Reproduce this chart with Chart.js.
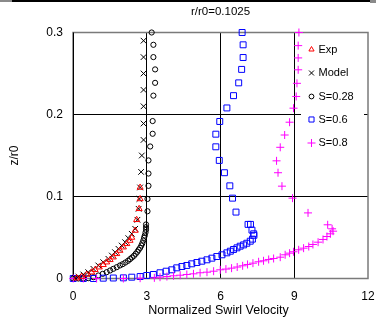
<!DOCTYPE html>
<html>
<head>
<meta charset="utf-8">
<script src="https://cdn.jsdelivr.net/npm/chart.js@4/dist/chart.umd.min.js"></script>
<style>
  html, body { margin: 0; padding: 0; background: #fff; }
  #chart { display: block; }
</style>
</head>
<body>
<canvas id="chart" width="381" height="324"></canvas>
<script>
'use strict';

const FONT = '"Liberation Sans", Arial, sans-serif';

const TITLE = 'r/r0=0.1025';
const X_TITLE = 'Normalized Swirl Velocity';
const Y_TITLE = 'z/r0';

const xTicks = [0, 3, 6, 9, 12];
const yTicks = [0, 0.1, 0.2, 0.3];
const seriesNames = ['Exp', 'Model', 'S=0.28', 'S=0.6', 'S=0.8'];

// Exp (red triangles)
const expX = [2.73, 2.73, 2.69, 2.59, 2.53, 2.39, 2.32, 2.19, 2.05, 1.91, 1.78, 1.64, 1.51, 1.37, 1.23, 1.07, 0.90, 0.76, 0.56, 0.35, 0.15];
const expY = [0.111, 0.097, 0.085, 0.0716, 0.0585, 0.050, 0.0463, 0.0423, 0.0382, 0.0341, 0.0301, 0.026, 0.0228, 0.0199, 0.0167, 0.0138, 0.0106, 0.0077, 0.0049, 0.0024, 0.0004];

// Model (black x)
const modelX = [2.87, 2.87, 2.87, 2.87, 2.87, 2.87, 2.87, 2.80, 2.77, 2.73, 2.70, 2.67, 2.62, 2.53, 2.39, 2.25, 2.12, 1.98, 1.85, 1.71, 1.58, 1.44, 1.23, 1.03, 0.83, 0.62, 0.42, 0.22, 0.08];
const modelY = [0.290, 0.270, 0.250, 0.230, 0.210, 0.189, 0.169, 0.150, 0.130, 0.111, 0.097, 0.085, 0.0716, 0.0606, 0.0545, 0.0492, 0.0443, 0.0402, 0.0362, 0.0321, 0.028, 0.024, 0.0199, 0.0159, 0.0118, 0.0077, 0.0049, 0.0024, 0.0008];

// S=0.28 (black circles)
const s28X = [3.20, 3.27, 3.27, 3.34, 3.34, 3.27, 3.24, 3.24, 3.14, 3.07, 3.07, 3.07, 3.03, 3.03, 2.97, 2.97, 2.97, 2.95, 2.92, 2.89, 2.86, 2.82, 2.78, 2.73, 2.67, 2.62, 2.55, 2.48, 2.40, 2.32, 2.24, 2.13, 2.02, 1.91, 1.78, 1.64, 1.51, 1.37, 1.21, 1.03, 0.83, 0.62, 0.42, 0.22, 0.01];
const s28Y = [0.300, 0.285, 0.270, 0.255, 0.2386, 0.223, 0.192, 0.1765, 0.161, 0.144, 0.128, 0.113, 0.097, 0.082, 0.0659, 0.0626, 0.0594, 0.0561, 0.0524, 0.0496, 0.0463, 0.043, 0.0402, 0.0374, 0.035, 0.0326, 0.0301, 0.0277, 0.0256, 0.0236, 0.0216, 0.0195, 0.0175, 0.0159, 0.0138, 0.0118, 0.0098, 0.0077, 0.0057, 0.0037, 0.0016, 0.0004, 0, 0, 0];

// S=0.6 (blue squares)
const s06X = [6.88, 6.92, 6.92, 6.86, 6.74, 6.53, 6.26, 5.97, 5.81, 5.81, 5.95, 6.16, 6.38, 6.49, 6.63, 7.12, 7.22, 7.28, 7.35, 7.36, 7.30, 7.21, 7.07, 6.94, 6.80, 6.67, 6.53, 6.40, 6.26, 6.06, 5.85, 5.65, 5.45, 5.24, 5.04, 4.83, 4.63, 4.43, 4.22, 4.02, 3.79, 3.54, 3.27, 3.00, 2.73, 2.39, 2.05, 1.64, 1.23, 0.83, 0.42, 0.01];
const s06Y = [0.300, 0.285, 0.2695, 0.255, 0.2386, 0.223, 0.208, 0.1915, 0.176, 0.1606, 0.144, 0.129, 0.113, 0.098, 0.081, 0.066, 0.066, 0.059, 0.0545, 0.0527, 0.048, 0.0455, 0.043, 0.041, 0.0394, 0.0374, 0.0354, 0.0333, 0.0313, 0.0289, 0.0268, 0.0248, 0.0228, 0.0211, 0.0195, 0.0179, 0.0159, 0.0146, 0.013, 0.0106, 0.0089, 0.007, 0.0049, 0.0037, 0.0024, 0.0016, 0.0008, 0.0006, 0.0004, 0, 0, 0];

// S=0.8 (magenta plus)
const s08X = [9.19, 9.16, 9.16, 9.16, 9.11, 9.08, 8.97, 8.81, 8.61, 8.43, 8.28, 8.34, 8.50, 8.93, 9.56, 10.36, 10.54, 10.58, 10.47, 10.33, 10.17, 9.97, 9.76, 9.59, 9.38, 9.18, 8.97, 8.81, 8.63, 8.43, 8.16, 7.96, 7.75, 7.55, 7.32, 7.10, 6.90, 6.68, 6.45, 6.22, 5.99, 5.72, 5.45, 5.17, 4.90, 4.63, 4.36, 4.09, 3.82, 3.54, 3.31, 2.73, 2.05, 0.96, 0.42, 0.01];
const s08Y = [0.300, 0.284, 0.269, 0.2545, 0.238, 0.222, 0.2077, 0.1906, 0.175, 0.160, 0.1435, 0.129, 0.1126, 0.098, 0.080, 0.0655, 0.0606, 0.0577, 0.0545, 0.0512, 0.0476, 0.0443, 0.0415, 0.039, 0.037, 0.035, 0.0326, 0.0309, 0.0289, 0.026, 0.0244, 0.0232, 0.0216, 0.0204, 0.0187, 0.0171, 0.0155, 0.014, 0.0126, 0.0115, 0.0106, 0.0089, 0.0077, 0.007, 0.0057, 0.0049, 0.004, 0.0033, 0.0024, 0.0016, 0.0008, 0.0004, 0, 0, 0, 0];

const pts = (xs, ys) => xs.map((x, i) => ({ x: x, y: ys[i] }));

const styles = [
  { color: '#ff0000', pointStyle: 'triangle', radius: 3.5, legendRadius: 3 },
  { color: '#000000', pointStyle: 'crossRot', radius: 4, legendRadius: 3.5 },
  { color: '#000000', pointStyle: 'circle', radius: 2.6, legendRadius: 2.4 },
  { color: '#0000ff', pointStyle: 'rect', radius: 4.2, legendRadius: 3.6 },
  { color: '#ff00ff', pointStyle: 'cross', radius: 4, legendRadius: 4 }
];

const seriesData = [pts(expX, expY), pts(modelX, modelY), pts(s28X, s28Y), pts(s06X, s06Y), pts(s08X, s08Y)];

// draw order: keep Exp/Model above S=0.28
const drawOrder = [2, 3, 4, 1, 0];

const datasets = seriesNames.map((name, i) => ({
  label: name,
  data: seriesData[i],
  showLine: false,
  pointStyle: styles[i].pointStyle,
  pointRadius: styles[i].radius,
  pointHoverRadius: styles[i].radius,
  pointBorderWidth: 1,
  pointBorderColor: styles[i].color,
  pointBackgroundColor: 'rgba(0,0,0,0)',
  borderColor: styles[i].color,
  backgroundColor: 'rgba(0,0,0,0)',
  order: drawOrder.indexOf(i) * -1,
  clip: false
}));

const near = (a, b) => Math.abs(a - b) < 1e-6;

const LEGEND_BOX = { x: 301, y: 37, w: 63, h: 116 };
const LEGEND_ROWS = [49.5, 73, 96.5, 119.5, 143];

const decor = {
  id: 'decor',
  beforeDraw(chart) {
    const ctx = chart.ctx;
    ctx.save();
    ctx.fillStyle = '#fff';
    ctx.fillRect(0, 0, chart.width, chart.height);
    // top frame fragment
    ctx.fillStyle = '#000';
    ctx.fillRect(12, 0, 358, 2);
    ctx.fillStyle = '#8a8a8a';
    ctx.fillRect(0, 0, 12, 2);
    ctx.fillRect(370, 0, 6, 3);
    ctx.restore();
  },
  beforeDatasetsDraw(chart) {
    const ctx = chart.ctx;
    const a = chart.chartArea;
    ctx.save();
    // legend background covers grid lines
    ctx.fillStyle = '#fff';
    ctx.fillRect(LEGEND_BOX.x, LEGEND_BOX.y, LEGEND_BOX.w, LEGEND_BOX.h);
    // plot border
    ctx.strokeStyle = '#7a7a7a';
    ctx.lineWidth = 1.5;
    ctx.strokeRect(a.left, a.top, a.right - a.left, a.bottom - a.top);
    ctx.strokeStyle = '#000';
    ctx.lineWidth = 1;
    ctx.beginPath();
    ctx.moveTo(a.left + 0.5, a.top);
    ctx.lineTo(a.left + 0.5, a.bottom);
    ctx.stroke();
    ctx.restore();
  },
  afterDraw(chart) {
    const ctx = chart.ctx;
    const a = chart.chartArea;
    ctx.save();
    ctx.fillStyle = '#000';
    ctx.font = '11.5px ' + FONT;
    ctx.textAlign = 'center';
    ctx.textBaseline = 'middle';
    ctx.fillText(TITLE, (a.left + a.right) / 2, 12);
    ctx.font = '12.5px ' + FONT;
    ctx.fillText(X_TITLE, (a.left + a.right) / 2 - 2, 311);
    ctx.save();
    ctx.translate(15, (a.top + a.bottom) / 2);
    ctx.rotate(-Math.PI / 2);
    ctx.font = '12px ' + FONT;
    ctx.fillText(Y_TITLE, 0, 0);
    ctx.restore();

    // legend
    ctx.font = '11px ' + FONT;
    ctx.textAlign = 'left';
    seriesNames.forEach((name, i) => {
      const y = LEGEND_ROWS[i];
      ctx.strokeStyle = styles[i].color;
      ctx.fillStyle = 'rgba(0,0,0,0)';
      ctx.lineWidth = 1;
      Chart.helpers.drawPoint(ctx, {
        pointStyle: styles[i].pointStyle,
        radius: styles[i].legendRadius,
        rotation: 0,
        borderWidth: 1
      }, 311.5, y);
      ctx.fillStyle = '#000';
      ctx.fillText(name, 318.5, y);
    });
    ctx.restore();
  }
};

new Chart(document.getElementById('chart'), {
  type: 'scatter',
  data: { datasets: datasets },
  plugins: [decor],
  options: {
    responsive: false,
    animation: false,
    devicePixelRatio: 1,
    layout: { padding: { top: 32.5, right: 13, left: 0, bottom: 0 } },
    plugins: {
      legend: { display: false },
      title: { display: false },
      tooltip: { enabled: false }
    },
    scales: {
      x: {
        type: 'linear',
        min: xTicks[0],
        max: xTicks[xTicks.length - 1],
        afterBuildTicks: s => { s.ticks = xTicks.map(v => ({ value: v })); },
        afterFit: s => { s.height = 45.5; s.paddingLeft = 0; s.paddingRight = 0; },
        ticks: {
          padding: 11,
          color: '#000',
          font: { family: FONT, size: 12 },
          maxRotation: 0,
          callback: v => String(v)
        },
        grid: {
          drawTicks: false,
          lineWidth: 1,
          color: c => (xTicks.slice(1, -1).some(t => near(c.tick.value, t)) ? '#000' : 'rgba(0,0,0,0)')
        },
        border: { display: false }
      },
      y: {
        type: 'linear',
        min: yTicks[0],
        max: yTicks[yTicks.length - 1],
        afterBuildTicks: s => { s.ticks = yTicks.map(v => ({ value: v })); },
        afterFit: s => { s.width = 73; s.paddingTop = 0; s.paddingBottom = 0; },
        ticks: {
          padding: 10,
          color: '#000',
          font: { family: FONT, size: 12 },
          callback: v => (near(v, 0) ? '0' : Number(v).toFixed(1))
        },
        grid: {
          drawTicks: false,
          lineWidth: 1,
          color: c => (yTicks.slice(1, -1).some(t => near(c.tick.value, t)) ? '#000' : 'rgba(0,0,0,0)')
        },
        border: { display: false }
      }
    }
  }
});
</script>
</body>
</html>
